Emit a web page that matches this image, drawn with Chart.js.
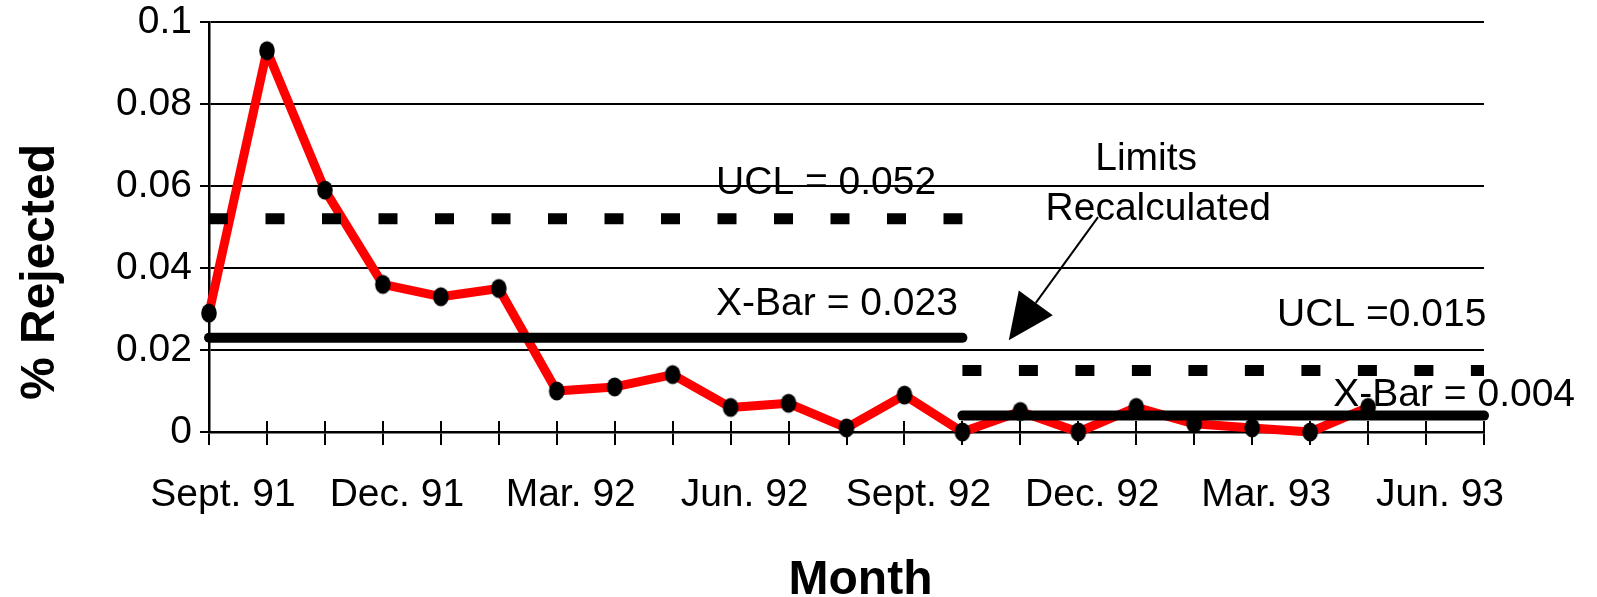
<!DOCTYPE html>
<html>
<head>
<meta charset="utf-8">
<title>% Rejected by Month</title>
<script src="https://cdn.jsdelivr.net/npm/chart.js@4.4.1/dist/chart.umd.min.js"></script>
<style>
    html, body { margin: 0; padding: 0; background: #fff; }
    #wrap { position: relative; width: 1597px; height: 597px; }
</style>
</head>
<body>
<div id="wrap"><canvas id="pChart"></canvas></div>
<script>
// Fraction rejected each month, Sept. 91 - May 93
const rejected = [0.029, 0.093, 0.059, 0.036, 0.033, 0.035, 0.010, 0.011, 0.014, 0.006, 0.007,
                  0.001, 0.009, 0.000, 0.005, 0.000, 0.006, 0.002, 0.001, 0.000, 0.006];

// One slot per month on the axis, only the quarters are labelled
const monthLabels = ['Sept. 91', '', '', 'Dec. 91', '', '', 'Mar. 92', '', '', 'Jun. 92', '', '',
                     'Sept. 92', '', '', 'Dec. 92', '', '', 'Mar. 93', '', '', 'Jun. 93', ''];

// Control limits, before and after they were recalculated
const limitFrom = [0, 13];
const limitTo = [13, 22];
const uclValues = [0.052, 0.015];
const xbarValues = [0.023, 0.004];
const uclLabels = ['UCL = 0.052', 'UCL =0.015'];
const xbarLabels = ['X-Bar = 0.023', 'X-Bar = 0.004'];

const FONT = '"Liberation Sans", Arial, Helvetica, sans-serif';

// Text notes, placed in data units (month index, value)
const notes = [
    { text: uclLabels[0], x: 8.75, y: 0.058, align: 'left' },
    { text: xbarLabels[0], x: 8.75, y: 0.0285, align: 'left' },
    { text: uclLabels[1], x: 18.43, y: 0.0259, align: 'left' },
    { text: xbarLabels[1], x: 19.4, y: 0.0063, align: 'left' },
    { text: 'Limits', x: 16.17, y: 0.0639, align: 'center' },
    { text: 'Recalculated', x: 16.38, y: 0.0517, align: 'center' }
];
const arrow = { fromX: 15.34, fromY: 0.0524, toX: 13.8, toY: 0.0224 };

// Slightly tall black dot used for the data points
const dot = document.createElement('canvas');
dot.width = 18;
dot.height = 22;
const dctx = dot.getContext('2d');
dctx.fillStyle = '#000';
dctx.beginPath();
dctx.ellipse(9, 11, 7.8, 9.6, 0, 0, Math.PI * 2);
dctx.fill();

// Build the limit lines from the arrays above
const limitSets = [];
for (let i = 0; i < uclValues.length; i++) {
    limitSets.push({
        label: uclLabels[i],
        data: [{ x: limitFrom[i], y: uclValues[i] }, { x: limitTo[i], y: uclValues[i] }],
        borderColor: '#000',
        borderWidth: 11,
        borderDash: [19, 37.5],
        borderCapStyle: 'butt',
        pointRadius: 0,
        clip: false
    });
    limitSets.push({
        label: xbarLabels[i],
        data: [{ x: limitFrom[i], y: xbarValues[i] }, { x: limitTo[i], y: xbarValues[i] }],
        borderColor: '#000',
        borderWidth: 10,
        borderCapStyle: 'round',
        pointRadius: 0,
        clip: false
    });
}

// Tick marks cross the axis, draw the inner half; then titles and notes on top
const decorations = {
    id: 'decorations',
    beforeDatasetsDraw(chart) {
        const { ctx, chartArea, scales } = chart;
        const xs = scales.x;
        ctx.save();
        ctx.strokeStyle = '#000';
        ctx.lineWidth = 2;
        xs.ticks.forEach(function(t) {
            const px = Math.round(xs.getPixelForValue(t.value));
            ctx.beginPath();
            ctx.moveTo(px, chartArea.bottom);
            ctx.lineTo(px, chartArea.bottom - 11);
            ctx.stroke();
        });
        ctx.restore();
    },
    afterDraw(chart) {
        const { ctx, chartArea, scales } = chart;
        const xs = scales.x, ys = scales.y;
        ctx.save();
        ctx.fillStyle = '#000';
        ctx.strokeStyle = '#000';

        // axis titles
        ctx.font = 'bold 48px ' + FONT;
        ctx.textAlign = 'center';
        ctx.textBaseline = 'alphabetic';
        ctx.fillText('Month', (chartArea.left + chartArea.right) / 2 + 14, chart.height - 3);
        ctx.save();
        ctx.translate(54, 272);
        ctx.rotate(-Math.PI / 2);
        ctx.fillText('% Rejected', 0, 0);
        ctx.restore();

        // notes
        ctx.font = '39px ' + FONT;
        notes.forEach(function(n) {
            ctx.textAlign = n.align;
            ctx.fillText(n.text, xs.getPixelForValue(n.x), ys.getPixelForValue(n.y));
        });

        // arrow pointing at the change of limits
        const x0 = xs.getPixelForValue(arrow.fromX), y0 = ys.getPixelForValue(arrow.fromY);
        const x1 = xs.getPixelForValue(arrow.toX), y1 = ys.getPixelForValue(arrow.toY);
        const len = Math.hypot(x1 - x0, y1 - y0);
        const ux = (x1 - x0) / len, uy = (y1 - y0) / len;
        const headLen = 46, headHalf = 21;
        const bx = x1 - ux * headLen, by = y1 - uy * headLen;
        ctx.lineWidth = 2;
        ctx.beginPath();
        ctx.moveTo(x0, y0);
        ctx.lineTo(bx, by);
        ctx.stroke();
        ctx.beginPath();
        ctx.moveTo(x1, y1);
        ctx.lineTo(bx - uy * headHalf, by + ux * headHalf);
        ctx.lineTo(bx + uy * headHalf, by - ux * headHalf);
        ctx.closePath();
        ctx.fill();
        ctx.restore();
    }
};

document.addEventListener('DOMContentLoaded', function() {
    const ctxP = document.getElementById('pChart');
    new Chart(ctxP, {
        type: 'line',
        data: {
            datasets: limitSets.concat([{
                label: '% Rejected',
                data: rejected.map(function(v, i) { return { x: i, y: v }; }),
                borderColor: '#ff0000',
                borderWidth: 9,
                borderJoinStyle: 'round',
                tension: 0,
                pointStyle: dot,
                pointRadius: 9,
                clip: false
            }])
        },
        options: {
            responsive: true,
            maintainAspectRatio: false,
            animation: false,
            events: [],
            layout: { padding: { top: 22, right: 113, bottom: 0, left: 0 } },
            scales: {
                x: {
                    type: 'linear',
                    min: 0,
                    max: monthLabels.length - 1,
                    afterFit: function(scale) {
                        scale.height = 165;
                        scale.paddingLeft = 0;
                        scale.paddingRight = 0;
                    },
                    ticks: {
                        stepSize: 1,
                        autoSkip: false,
                        maxRotation: 0,
                        labelOffset: 14,
                        padding: 27,
                        color: '#000',
                        font: { family: FONT, size: 39 },
                        callback: function(v) { return monthLabels[v] || ''; }
                    },
                    grid: { drawOnChartArea: false, color: '#000', lineWidth: 2, tickLength: 13 },
                    border: { color: '#000', width: 2.5 }
                },
                y: {
                    min: 0,
                    max: 0.1,
                    afterFit: function(scale) {
                        scale.width = 209;
                        scale.paddingTop = 0;
                        scale.paddingBottom = 0;
                    },
                    ticks: {
                        stepSize: 0.02,
                        padding: 8,
                        color: '#000',
                        font: { family: FONT, size: 39 },
                        callback: function(v) { return String(+v.toFixed(2)); }
                    },
                    grid: { color: '#000', lineWidth: 2, tickLength: 9 },
                    border: { color: '#000', width: 2.5 }
                }
            },
            plugins: {
                legend: { display: false },
                tooltip: { enabled: false }
            }
        },
        plugins: [decorations]
    });
});
</script>
</body>
</html>
